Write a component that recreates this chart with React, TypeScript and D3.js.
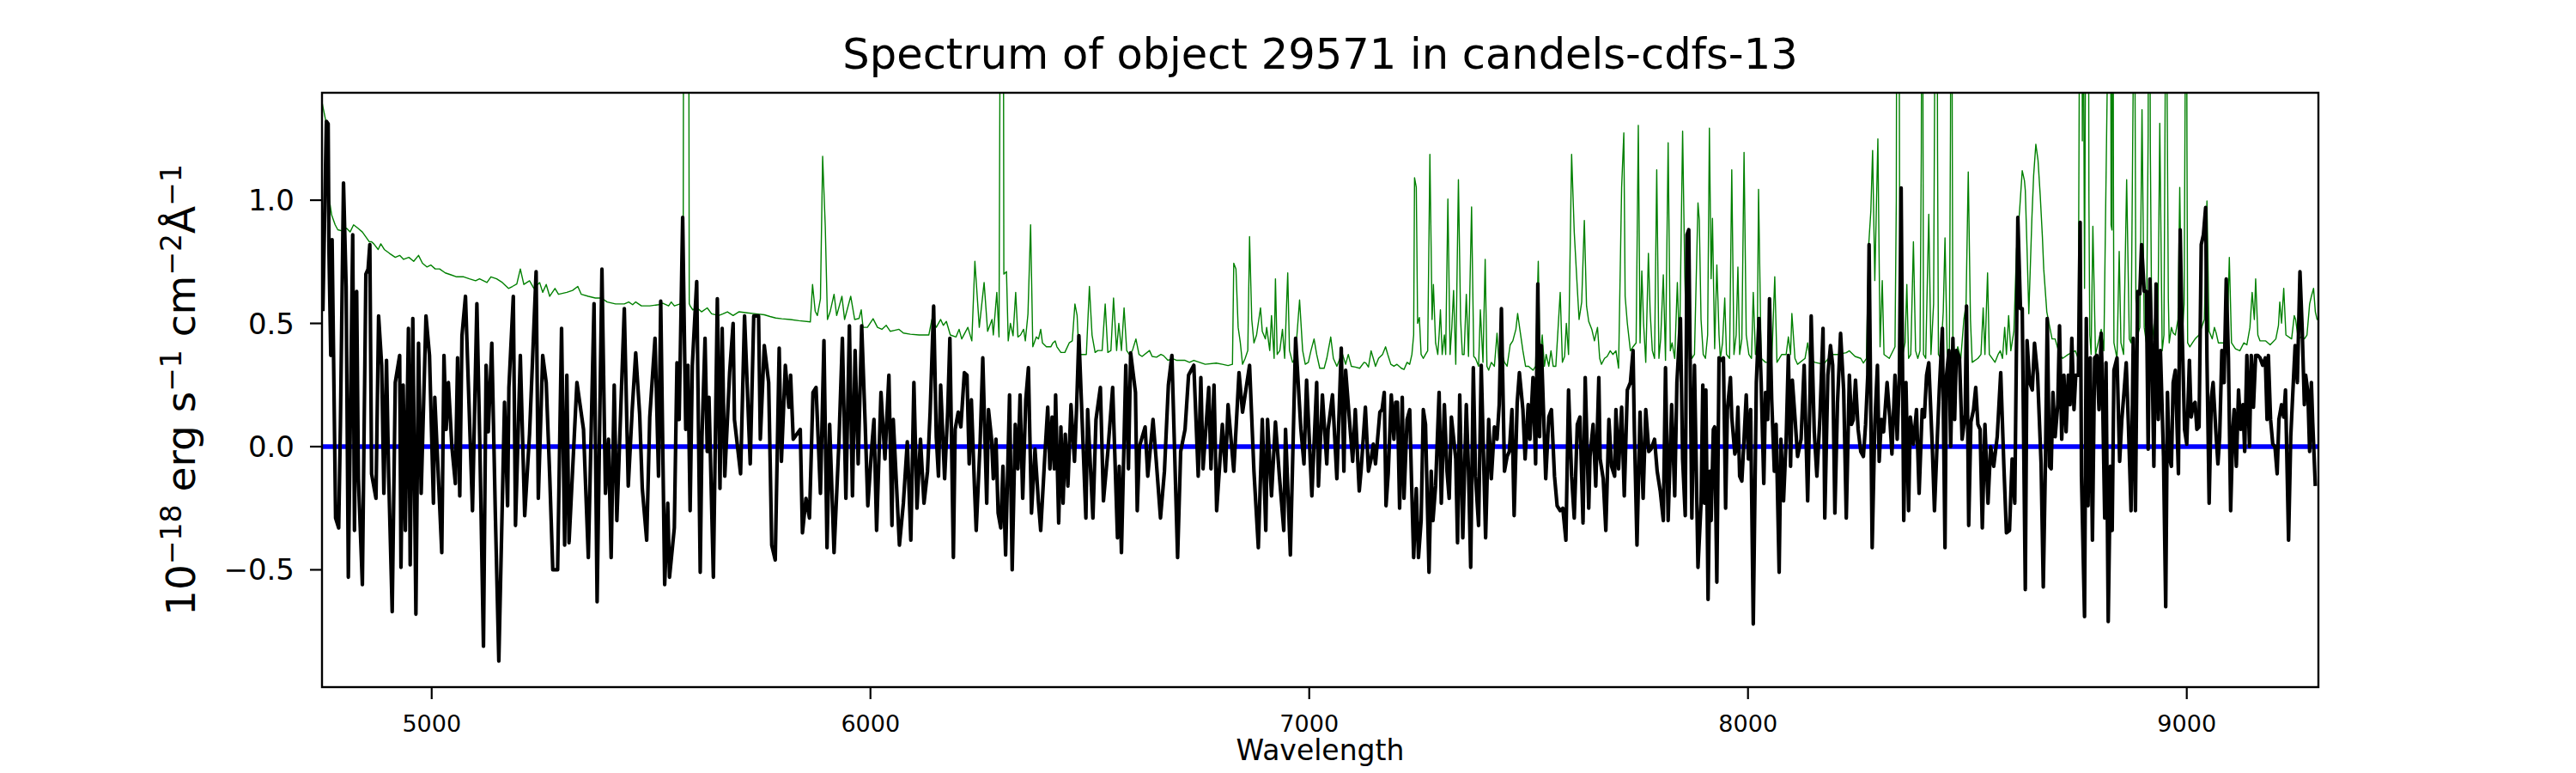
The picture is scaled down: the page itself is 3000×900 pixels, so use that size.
import * as d3 from "d3";

// ---- chart values ----
const titleText = "Spectrum of object 29571 in candels-cdfs-13";
const xDomain = [4750, 9300];
const yDomain = [-0.976, 1.436];
const xTicks = [5000, 6000, 7000, 8000, 9000];
const yTicks = [-0.5, 0, 0.5, 1.0];

// object flux [wavelength, flux], read in six stretches
const flux1: [number, number][] = [
  [4752, 0.55], [4760, 1.32], [4764, 1.31], [4766, 0.78], [4770, 0.37], [4773, 0.84], [4781, -0.29], [4788, -0.33],
  [4792, 0.09], [4799, 1.07], [4805, 0.65], [4810, -0.53], [4820, 0.86], [4824, -0.34], [4829, 0.63], [4833, -0.13],
  [4842, -0.56], [4850, 0.7], [4855, 0.72], [4859, 0.82], [4863, -0.11], [4873, -0.21], [4879, 0.53], [4886, 0.33],
  [4891, -0.19], [4897, 0.35], [4902, -0.12], [4910, -0.67], [4917, 0.26], [4927, 0.37], [4930, -0.49], [4935, 0.25],
  [4940, -0.34], [4947, 0.48], [4951, -0.48], [4957, 0.52], [4964, -0.68], [4970, 0.42], [4976, -0.19], [4987, 0.53],
  [4995, 0.37], [5004, -0.23], [5007, 0.2], [5023, -0.43], [5028, 0.37], [5033, 0.07], [5038, 0.26], [5046, 0.0],
  [5054, -0.15], [5059, 0.36], [5064, -0.2], [5069, 0.45], [5077, 0.61], [5093, -0.26], [5103, 0.58], [5110, -0.02],
  [5118, -0.81], [5124, 0.33], [5129, 0.06], [5137, 0.42], [5145, -0.27], [5153, -0.87], [5166, 0.18], [5173, -0.24],
  [5176, 0.24], [5186, 0.61], [5191, -0.32], [5202, 0.37], [5212, -0.28], [5223, 0.05], [5238, 0.71], [5243, -0.21],
  [5253, 0.37], [5261, 0.26], [5269, -0.12], [5276, -0.5], [5287, -0.5], [5296, 0.48], [5303, -0.4], [5308, 0.29],
  [5313, -0.39], [5331, 0.26], [5346, 0.07], [5357, -0.45], [5370, 0.58], [5377, -0.63], [5388, 0.72], [5396, -0.19],
  [5403, 0.03], [5409, -0.45], [5416, 0.25], [5422, -0.3], [5439, 0.56], [5448, -0.16], [5457, 0.15], [5465, 0.38],
  [5474, 0.13], [5480, -0.17], [5490, -0.38], [5497, 0.12], [5509, 0.44], [5517, -0.12], [5522, 0.59], [5531, -0.56],
  [5538, -0.23], [5542, -0.53],
];
const flux2: [number, number][] = [
  [5553, -0.33], [5559, 0.34], [5564, 0.11], [5572, 0.93], [5579, 0.07], [5584, 0.33], [5589, -0.26], [5594, 0.33],
  [5604, 0.67], [5612, -0.51], [5616, 0.04], [5623, 0.44], [5628, -0.02], [5632, 0.2], [5642, -0.53], [5651, 0.6],
  [5657, -0.17], [5662, 0.48], [5668, -0.12], [5679, 0.3], [5687, 0.5], [5690, 0.11], [5704, -0.11], [5713, 0.53],
  [5726, -0.07], [5734, 0.53], [5745, 0.53], [5749, 0.03], [5758, 0.41], [5768, 0.26], [5775, -0.4], [5783, -0.46],
  [5792, 0.4], [5797, -0.06], [5806, 0.33], [5814, 0.16], [5818, 0.29], [5824, 0.03], [5840, 0.07], [5845, -0.35],
  [5853, -0.21], [5861, -0.29], [5869, 0.22], [5876, 0.24], [5886, -0.19], [5894, 0.43], [5901, -0.41], [5907, 0.09],
  [5917, -0.43], [5928, 0.01], [5936, 0.44], [5944, -0.21], [5952, 0.49], [5959, -0.2], [5965, 0.39], [5972, -0.07],
  [5980, 0.49], [5988, 0.09], [5994, -0.24], [6003, 0.0], [6008, 0.11], [6014, -0.34], [6024, 0.22], [6033, -0.05],
  [6042, 0.29], [6049, -0.32], [6052, 0.11], [6066, -0.4], [6075, -0.23], [6084, 0.02], [6092, -0.38], [6099, 0.26],
  [6106, -0.25], [6114, 0.03], [6122, -0.23], [6130, -0.1], [6136, 0.14], [6144, 0.57], [6150, 0.04], [6155, -0.12],
  [6160, 0.25], [6169, -0.13], [6176, 0.14], [6181, 0.44], [6189, -0.45], [6193, 0.07], [6200, 0.14], [6206, 0.08],
  [6214, 0.3], [6220, 0.29], [6225, -0.07], [6230, 0.19], [6237, -0.16], [6241, -0.34], [6250, 0.02], [6256, 0.36],
  [6261, 0.03], [6265, -0.23], [6269, 0.15], [6276, 0.03], [6280, -0.13], [6286, 0.03], [6291, -0.27], [6297, -0.33],
  [6302, -0.08], [6308, -0.44], [6317, 0.21], [6323, -0.5],
];
const flux3: [number, number][] = [
  [6330, 0.09], [6336, -0.09], [6341, 0.21], [6347, -0.21], [6354, 0.19], [6360, 0.32], [6367, -0.27], [6375, -0.01],
  [6383, -0.23], [6388, -0.34], [6397, -0.05], [6404, 0.16], [6409, -0.09], [6414, 0.12], [6419, -0.09], [6422, 0.21],
  [6429, -0.31], [6434, 0.08], [6439, -0.23], [6444, 0.05], [6450, -0.16], [6457, 0.17], [6465, -0.06], [6470, 0.17],
  [6475, 0.45], [6491, -0.29], [6495, 0.15], [6507, -0.29], [6514, 0.11], [6524, 0.24], [6531, -0.22], [6541, -0.02],
  [6552, 0.24], [6563, -0.37], [6567, -0.08], [6572, -0.43], [6582, 0.33], [6588, -0.09], [6593, 0.38], [6604, 0.22],
  [6608, -0.26], [6613, 0.0], [6626, 0.08], [6632, -0.12], [6644, 0.11], [6651, -0.05], [6661, -0.29], [6670, -0.1],
  [6679, 0.25], [6687, 0.37], [6700, -0.45], [6707, -0.02], [6717, 0.07], [6725, 0.29], [6737, 0.33], [6747, -0.12],
  [6753, 0.28], [6758, -0.09], [6771, 0.24], [6776, -0.09], [6783, 0.25], [6789, -0.26], [6802, 0.09], [6809, -0.1],
  [6815, 0.17], [6828, -0.1], [6840, 0.3], [6848, 0.14], [6864, 0.33], [6874, -0.1], [6884, -0.41], [6893, 0.11],
  [6901, -0.34], [6905, 0.11], [6914, -0.2], [6923, 0.1], [6932, -0.12], [6942, -0.34], [6946, 0.07], [6957, -0.44],
  [6969, 0.44], [6981, 0.07], [6988, -0.07], [6994, 0.27], [7006, -0.2], [7017, 0.26], [7021, -0.16], [7030, 0.21],
  [7040, -0.07], [7043, 0.07], [7053, 0.21], [7063, -0.13], [7073, 0.4], [7079, -0.1], [7083, 0.31], [7092, 0.1],
  [7099, -0.06], [7105, 0.15],
];
const flux4: [number, number][] = [
  [7114, -0.18], [7118, -0.1], [7128, 0.16], [7135, -0.1], [7141, -0.05], [7146, 0.01], [7151, -0.07], [7161, 0.14],
  [7166, 0.15], [7171, 0.22], [7175, -0.24], [7180, -0.11], [7187, 0.21], [7193, 0.03], [7197, 0.18], [7201, 0.18],
  [7206, -0.25], [7212, 0.2], [7216, -0.21], [7223, 0.11], [7229, 0.15], [7233, -0.13], [7238, -0.45], [7244, -0.17],
  [7249, -0.45], [7255, -0.3], [7260, 0.15], [7265, 0.09], [7273, -0.51], [7278, -0.1], [7282, -0.3], [7288, -0.16],
  [7296, 0.22], [7301, -0.23], [7308, 0.17], [7314, -0.1], [7319, -0.21], [7324, 0.12], [7334, -0.05], [7338, -0.39],
  [7343, 0.21], [7350, -0.37], [7358, 0.17], [7363, -0.1], [7368, -0.49], [7374, 0.32], [7379, -0.12], [7386, -0.32],
  [7392, 0.33], [7402, -0.37], [7409, 0.11], [7415, -0.13], [7422, 0.08], [7428, 0.03], [7433, 0.17], [7438, 0.56],
  [7445, -0.1], [7451, -0.04], [7456, -0.02], [7462, 0.15], [7467, -0.28], [7474, 0.18], [7479, 0.3], [7487, 0.15],
  [7492, -0.05], [7499, 0.17], [7503, 0.03], [7510, 0.28], [7516, -0.07], [7521, 0.66], [7525, 0.04], [7529, 0.41],
  [7539, -0.13], [7546, 0.12], [7552, 0.15], [7559, -0.12], [7565, -0.24], [7572, -0.26], [7578, -0.25], [7585, -0.38],
  [7591, 0.23], [7598, -0.12], [7604, -0.29], [7611, 0.09], [7617, 0.12], [7624, -0.31], [7629, 0.28], [7637, -0.25],
  [7640, -0.04], [7647, 0.09], [7653, -0.16], [7660, 0.28], [7663, -0.05], [7670, -0.13], [7676, -0.34], [7683, 0.11],
  [7689, -0.08], [7696, -0.12], [7699, 0.15], [7705, -0.09], [7712, 0.16], [7718, -0.2], [7725, 0.23], [7732, 0.26],
  [7738, 0.39], [7741, 0.07], [7747, -0.4], [7754, 0.14], [7761, -0.21], [7767, 0.15], [7774, -0.02], [7779, -0.01],
  [7787, 0.03], [7793, -0.1], [7800, -0.18], [7807, -0.3], [7812, 0.32], [7818, -0.3], [7826, 0.17], [7833, -0.2],
  [7838, 0.26], [7846, 0.52], [7851, -0.05], [7857, -0.28], [7861, 0.86], [7865, 0.88], [7872, -0.29], [7878, 0.33],
  [7886, -0.49],
];
const flux5: [number, number][] = [
  [7893, -0.23], [7897, 0.25], [7901, -0.23], [7904, 0.23], [7909, -0.62], [7913, -0.1], [7916, -0.3], [7921, 0.07],
  [7924, 0.08], [7929, -0.55], [7934, 0.36], [7940, 0.35], [7944, 0.36], [7949, -0.25], [7953, 0.15], [7960, 0.28],
  [7963, 0.12], [7970, -0.03], [7973, -0.01], [7977, 0.16], [7981, -0.12], [7986, -0.14], [7991, 0.03], [7996, 0.21],
  [8001, -0.05], [8006, 0.15], [8012, -0.72], [8019, 0.26], [8025, 0.52], [8030, 0.26], [8036, -0.15], [8040, 0.22],
  [8045, 0.11], [8049, 0.6], [8054, 0.19], [8060, -0.1], [8064, 0.09], [8071, -0.51], [8075, 0.03], [8081, -0.22],
  [8087, 0.03], [8092, 0.37], [8097, -0.08], [8101, 0.27], [8107, 0.12], [8113, -0.04], [8121, 0.03], [8128, 0.33],
  [8136, -0.22], [8141, 0.18], [8144, 0.53], [8151, 0.06], [8157, -0.12], [8164, 0.12], [8171, 0.48], [8175, -0.29],
  [8182, 0.29], [8188, 0.41], [8193, 0.33], [8198, -0.27], [8204, 0.18], [8211, 0.46], [8218, 0.23], [8224, -0.29],
  [8231, 0.29], [8236, 0.09], [8240, 0.11], [8245, 0.27], [8251, 0.07], [8257, -0.02], [8263, -0.04], [8268, 0.09],
  [8273, 0.29], [8276, 0.82], [8283, -0.41], [8289, 0.09], [8295, 0.33], [8299, -0.06], [8304, 0.11], [8309, 0.06],
  [8317, 0.26], [8323, 0.12], [8328, -0.03], [8335, 0.29], [8340, 0.03], [8345, 0.29], [8349, 1.05], [8355, -0.3],
  [8360, 0.26], [8366, -0.26], [8370, 0.12], [8377, 0.01], [8384, 0.15], [8390, -0.19], [8397, 0.15], [8402, 0.12],
  [8407, 0.29], [8412, 0.34], [8420, 0.0], [8425, -0.26], [8432, 0.06], [8436, 0.23], [8443, 0.48], [8449, -0.41],
  [8452, 0.28], [8458, 0.39], [8462, 0.0], [8467, 0.44], [8471, 0.11], [8475, 0.39], [8482, 0.36], [8488, 0.03],
  [8495, 0.13], [8498, 0.57], [8503, -0.32], [8508, 0.1], [8514, 0.15], [8519, 0.24], [8524, 0.09], [8529, 0.07],
  [8534, -0.33], [8540, 0.09], [8547, -0.23], [8553, 0.0], [8560, -0.08], [8568, 0.04], [8576, 0.3], [8583, -0.07],
  [8589, -0.35], [8596, -0.34], [8602, -0.05], [8608, -0.23], [8615, 0.93], [8621, 0.56], [8625, 0.56], [8632, -0.58],
  [8636, 0.43], [8642, 0.26], [8648, 0.23], [8653, 0.42], [8660, 0.29], [8668, -0.07], [8673, -0.57],
];
const flux6: [number, number][] = [
  [8678, -0.05], [8682, 0.52], [8687, -0.08], [8691, -0.09], [8695, 0.22], [8700, 0.04], [8706, 0.17], [8710, 0.49],
  [8715, 0.03], [8720, 0.29], [8725, 0.06], [8730, 0.29], [8734, 0.17], [8738, 0.44], [8743, 0.15], [8747, 0.29],
  [8753, 0.29], [8757, 0.91], [8760, -0.12], [8767, -0.69], [8771, 0.52], [8775, -0.24], [8780, 0.36], [8785, -0.38],
  [8790, 0.36], [8795, 0.37], [8800, 0.15], [8805, 0.46], [8808, 0.22], [8813, -0.29], [8816, 0.34], [8821, -0.71],
  [8826, -0.08], [8830, -0.34], [8834, 0.31], [8841, 0.36], [8847, -0.06], [8852, 0.11], [8857, 0.22], [8862, 0.34],
  [8867, 0.09], [8873, -0.26], [8878, 0.44], [8883, -0.26], [8888, 0.63], [8893, 0.62], [8897, 0.82], [8903, 0.63],
  [8908, 0.63], [8912, -0.01], [8916, 0.68], [8921, 0.36], [8925, -0.08], [8930, 0.66], [8935, 0.11], [8940, 0.39],
  [8947, -0.04], [8952, -0.65], [8956, 0.22], [8960, -0.04], [8965, -0.08], [8969, 0.26], [8974, 0.31], [8981, -0.11],
  [8985, 0.88], [8989, 0.5], [8995, 0.07], [9000, 0.01], [9006, 0.35], [9010, 0.12], [9015, 0.17], [9019, 0.18],
  [9023, 0.07], [9028, 0.08], [9033, 0.82], [9038, 0.86], [9043, 0.97], [9046, 0.36], [9051, -0.23], [9056, 0.2],
  [9060, 0.26], [9066, 0.07], [9071, -0.07], [9075, 0.04], [9080, 0.39], [9085, 0.26], [9090, 0.68], [9095, 0.36],
  [9100, -0.26], [9105, 0.07], [9108, 0.15], [9113, -0.08], [9118, 0.23], [9123, 0.07], [9128, 0.17], [9132, -0.02],
  [9137, 0.37], [9143, 0.0], [9147, 0.37], [9152, 0.16], [9157, 0.37], [9162, 0.37], [9167, 0.36], [9173, 0.33],
  [9179, 0.36], [9183, 0.11], [9186, 0.37], [9191, 0.11], [9196, 0.01], [9201, 0.0], [9206, -0.11], [9210, 0.11],
  [9216, 0.17], [9221, 0.12], [9225, 0.23], [9232, -0.38], [9237, 0.04], [9242, 0.23], [9247, 0.41], [9252, 0.26],
  [9258, 0.71], [9263, 0.48], [9268, 0.17], [9271, 0.29], [9276, 0.22], [9280, -0.02], [9284, 0.26], [9287, 0.1],
  [9293, -0.16],
];

// noise / sky spectrum [wavelength, flux]
const sky1: [number, number][] = [
  [4750, 1.4], [4752, 1.38], [4760, 1.31], [4767, 1.0], [4772, 0.94], [4780, 0.9], [4786, 0.88], [4796, 0.875],
  [4806, 0.886], [4814, 0.871], [4822, 0.9], [4832, 0.886], [4842, 0.871], [4858, 0.831], [4863, 0.831], [4868, 0.823],
  [4878, 0.8], [4884, 0.823], [4892, 0.8], [4904, 0.784], [4917, 0.768], [4927, 0.776], [4936, 0.76], [4948, 0.768],
  [4959, 0.752], [4970, 0.776], [4979, 0.744], [4989, 0.729], [4998, 0.737], [5008, 0.721], [5018, 0.721], [5031, 0.705],
  [5044, 0.697], [5057, 0.689], [5073, 0.689], [5086, 0.681], [5100, 0.673], [5109, 0.681], [5126, 0.666], [5135, 0.689],
  [5148, 0.681], [5161, 0.666], [5175, 0.642], [5184, 0.65], [5194, 0.66], [5202, 0.721], [5210, 0.658], [5223, 0.673],
  [5233, 0.642], [5246, 0.666], [5253, 0.626], [5261, 0.658], [5269, 0.61], [5281, 0.642], [5289, 0.618], [5308, 0.626],
  [5321, 0.634], [5333, 0.65], [5341, 0.618], [5357, 0.61], [5373, 0.603], [5387, 0.603], [5400, 0.587], [5419, 0.579],
  [5439, 0.579], [5449, 0.587], [5458, 0.576], [5465, 0.587], [5478, 0.571], [5497, 0.571], [5517, 0.576], [5527, 0.582],
  [5540, 0.571],
];
const sky2: [number, number][] = [
  [5546, 0.587], [5553, 0.571], [5566, 0.579], [5573, 0.58], [5575.5, 3.5], [5584.5, 3.5], [5587, 0.58], [5589, 0.571],
  [5595, 0.555], [5605, 0.563], [5615, 0.547], [5628, 0.563], [5638, 0.539], [5654, 0.532], [5664, 0.539], [5674, 0.547],
  [5687, 0.532], [5700, 0.547], [5719, 0.543], [5739, 0.539], [5758, 0.535], [5771, 0.528], [5784, 0.522], [5798, 0.519],
  [5817, 0.516], [5837, 0.511], [5863, 0.506], [5868, 0.658], [5874, 0.55], [5879, 0.532], [5886, 0.6], [5891, 1.178],
  [5897, 0.894], [5902, 0.516], [5908, 0.547], [5917, 0.618], [5923, 0.532], [5935, 0.61], [5941, 0.516], [5955, 0.61],
  [5964, 0.516], [5974, 0.52], [5979, 0.555], [5983, 0.484], [5993, 0.484], [6006, 0.519], [6016, 0.484], [6026, 0.476],
  [6036, 0.492], [6045, 0.468], [6055, 0.472], [6065, 0.476], [6075, 0.461], [6091, 0.456], [6111, 0.453], [6133, 0.453],
  [6140, 0.516], [6150, 0.484], [6160, 0.516], [6166, 0.492], [6173, 0.508], [6182, 0.453], [6195, 0.445], [6202, 0.476],
  [6208, 0.437], [6222, 0.484], [6231, 0.429], [6238, 0.752], [6248, 0.484], [6259, 0.666], [6267, 0.468], [6277, 0.516],
  [6280, 0.453], [6288, 0.626], [6293, 0.445], [6298, 3.0], [6302, 3.0], [6304, 0.7], [6310, 0.71], [6314, 0.429],
  [6319, 0.5], [6325, 0.45],
];
const sky3: [number, number][] = [
  [6331, 0.626], [6336, 0.445], [6342, 0.453], [6349, 0.476], [6353, 0.429], [6359, 0.539], [6365, 0.9], [6370, 0.405],
  [6378, 0.445], [6383, 0.437], [6388, 0.476], [6392, 0.421], [6401, 0.405], [6411, 0.405], [6416, 0.421], [6421, 0.429],
  [6425, 0.405], [6434, 0.382], [6443, 0.382], [6453, 0.421], [6460, 0.429], [6466, 0.579], [6471, 0.532], [6475, 0.374],
  [6482, 0.374], [6492, 0.374], [6499, 0.65], [6505, 0.453], [6512, 0.382], [6518, 0.39], [6528, 0.39], [6535, 0.579],
  [6541, 0.382], [6548, 0.39], [6554, 0.603], [6561, 0.39], [6566, 0.5], [6572, 0.39], [6578, 0.563], [6584, 0.39],
  [6590, 0.374], [6597, 0.39], [6605, 0.437], [6612, 0.374], [6619, 0.366], [6636, 0.39], [6642, 0.366], [6652, 0.363],
  [6662, 0.374], [6668, 0.369], [6678, 0.35], [6688, 0.358], [6698, 0.35], [6717, 0.35], [6727, 0.342], [6737, 0.35],
  [6750, 0.342], [6763, 0.334], [6788, 0.339], [6802, 0.334], [6815, 0.329], [6825, 0.334], [6828, 0.744], [6833, 0.721],
  [6838, 0.484], [6843, 0.421], [6848, 0.334], [6854, 0.358], [6860, 0.39], [6864, 0.852], [6869, 0.516], [6874, 0.421],
  [6880, 0.453], [6889, 0.563], [6893, 0.468], [6900, 0.437], [6903, 0.484], [6910, 0.39], [6914, 0.532], [6920, 0.358],
  [6923, 0.681], [6927, 0.374], [6933, 0.39], [6939, 0.476], [6944, 0.358], [6951, 0.705], [6955, 0.39], [6962, 0.342],
  [6968, 0.358], [6978, 0.595], [6985, 0.39], [6991, 0.334], [6998, 0.342], [7004, 0.39], [7011, 0.437], [7017, 0.374],
  [7024, 0.318], [7034, 0.318], [7040, 0.358], [7049, 0.445], [7055, 0.358], [7063, 0.326], [7070, 0.358], [7076, 0.374],
  [7083, 0.334], [7089, 0.374], [7096, 0.326], [7105, 0.323],
];
const sky4: [number, number][] = [
  [7115, 0.318], [7125, 0.342], [7129, 0.339], [7135, 0.323], [7141, 0.389], [7146, 0.358], [7151, 0.326], [7158, 0.358],
  [7167, 0.374], [7174, 0.405], [7179, 0.374], [7186, 0.334], [7193, 0.326], [7200, 0.334], [7210, 0.318], [7216, 0.313],
  [7223, 0.342], [7229, 0.334], [7234, 0.374], [7238, 0.453], [7240, 1.091], [7244, 1.052], [7247, 0.5], [7251, 0.524],
  [7255, 0.374], [7260, 0.358], [7265, 0.374], [7270, 0.389], [7275, 1.186], [7280, 0.516], [7283, 0.658], [7288, 0.421],
  [7293, 0.374], [7296, 0.453], [7299, 0.555], [7303, 0.374], [7308, 0.453], [7311, 0.374], [7316, 1.005], [7321, 0.374],
  [7325, 0.484], [7329, 0.634], [7334, 0.334], [7340, 1.083], [7345, 0.516], [7349, 0.374], [7353, 0.374], [7358, 0.618],
  [7363, 0.366], [7370, 0.973], [7375, 0.366], [7379, 0.358], [7386, 0.326], [7390, 0.555], [7396, 0.342], [7401, 0.76],
  [7405, 0.326], [7409, 0.31], [7415, 0.342], [7422, 0.326], [7428, 0.46], [7433, 0.326], [7438, 0.389], [7445, 0.342],
  [7451, 0.326], [7458, 0.413], [7464, 0.429], [7471, 0.476], [7475, 0.54], [7480, 0.476], [7487, 0.389], [7493, 0.326],
  [7500, 0.326], [7510, 0.31], [7516, 0.326], [7522, 0.752], [7526, 0.358], [7531, 0.453], [7536, 0.326], [7540, 0.374],
  [7546, 0.326], [7551, 0.389], [7556, 0.326], [7562, 0.326], [7572, 0.626], [7577, 0.342], [7582, 0.366], [7586, 0.5],
  [7591, 0.374], [7598, 1.186], [7604, 0.87], [7611, 0.642], [7615, 0.516], [7621, 0.587], [7627, 0.918], [7632, 0.571],
  [7637, 0.508], [7644, 0.476], [7650, 0.429], [7657, 0.484], [7662, 0.358], [7666, 0.334], [7673, 0.358], [7679, 0.366],
  [7686, 0.389], [7692, 0.374], [7699, 0.389], [7705, 0.318], [7712, 1.052], [7717, 1.273], [7720, 0.61], [7725, 0.5],
  [7732, 0.389], [7738, 0.405], [7745, 0.421], [7750, 1.304], [7754, 0.421], [7758, 0.713], [7762, 0.5], [7767, 0.342],
  [7773, 0.784], [7777, 0.547], [7782, 0.389], [7787, 0.358], [7792, 1.123], [7797, 0.358], [7801, 0.437], [7807, 0.697],
  [7812, 0.35], [7818, 1.233], [7823, 0.389], [7827, 0.421], [7833, 0.358], [7839, 0.666], [7844, 0.389], [7851, 1.28],
  [7856, 0.689], [7861, 0.358], [7865, 0.437], [7872, 0.358], [7878, 0.374], [7886, 0.989],
];
const sky5: [number, number][] = [
  [7889, 0.92], [7893, 0.516], [7898, 0.374], [7903, 0.358], [7908, 0.453], [7912, 1.292], [7916, 0.681], [7919, 0.926],
  [7924, 0.397], [7929, 0.737], [7934, 0.453], [7937, 0.358], [7942, 0.421], [7947, 0.603], [7951, 0.374], [7958, 0.358],
  [7963, 1.123], [7968, 0.374], [7973, 0.453], [7977, 0.729], [7981, 0.374], [7986, 0.437], [7991, 1.194], [7996, 0.453],
  [8002, 0.374], [8008, 0.358], [8012, 0.626], [8017, 0.374], [8021, 0.389], [8024, 1.044], [8030, 0.358], [8040, 0.342],
  [8054, 0.342], [8061, 0.689], [8066, 0.342], [8077, 0.374], [8087, 0.374], [8092, 0.445], [8097, 0.374], [8100, 0.54],
  [8107, 0.358], [8113, 0.334], [8130, 0.358], [8136, 0.421], [8141, 0.358], [8152, 0.342], [8172, 0.334], [8191, 0.374],
  [8205, 0.374], [8224, 0.381], [8231, 0.389], [8244, 0.366], [8257, 0.358], [8263, 0.339], [8270, 0.358], [8275, 0.815],
  [8280, 0.957], [8284, 1.202], [8289, 0.674], [8296, 1.249], [8301, 0.405], [8306, 0.674], [8310, 0.374], [8322, 0.358],
  [8335, 0.405], [8338, 1.0], [8340, 3.0], [8343, 3.0], [8345.5, 1.0], [8347, 0.453], [8351, 0.358], [8358, 0.421],
  [8362, 0.658], [8366, 0.358], [8371, 0.374], [8377, 0.831], [8382, 0.389], [8387, 0.358], [8392, 0.389], [8395, 1.2],
  [8397, 3.0], [8399, 1.2], [8400, 0.374], [8405, 0.358], [8412, 0.943], [8417, 0.374], [8423, 0.579], [8425.5, 1.5],
  [8427.5, 3.0], [8430, 3.0], [8432, 1.2], [8434, 0.374], [8439, 0.358], [8445, 0.547], [8449, 0.847], [8454, 0.374],
  [8459, 0.389], [8461.5, 1.3], [8463.5, 3.0], [8465.5, 1.3], [8467, 0.389], [8472, 0.358], [8478, 0.405], [8485, 0.358],
  [8492, 0.516], [8497, 0.579], [8502, 1.115], [8507, 0.516], [8511, 0.342], [8524, 0.358], [8531, 0.374], [8536, 0.563],
  [8540, 0.374], [8546, 0.705], [8550, 0.374], [8563, 0.342], [8570, 0.374], [8575, 0.389], [8580, 0.358], [8585, 0.484],
  [8589, 0.374], [8594, 0.532], [8599, 0.389], [8606, 0.468], [8612, 0.8], [8619, 0.957], [8625, 1.12], [8630, 1.08],
];
const sky6: [number, number][] = [
  [8632, 1.04], [8636, 0.8], [8640, 0.539], [8647, 0.926], [8651, 1.1], [8656, 1.227], [8661, 1.162], [8666, 1.02],
  [8671, 0.85], [8674, 0.721], [8681, 0.547], [8687, 0.492], [8693, 0.437], [8700, 0.437], [8710, 0.374], [8717, 0.358],
  [8730, 0.374], [8746, 0.389], [8752.5, 0.358], [8755, 1.5], [8757, 3.0], [8760, 3.0], [8762, 1.241], [8764, 2.0],
  [8767, 0.642], [8769, 1.5], [8771, 3.0], [8775, 3.0], [8777, 1.0], [8779, 0.452], [8782, 0.374], [8786, 0.894],
  [8792, 0.374], [8798, 0.421], [8805, 0.476], [8811, 0.389], [8819, 1.5], [8821, 3.0], [8825.5, 3.0], [8827.5, 0.9],
  [8829.5, 0.879], [8831, 3.0], [8833, 1.0], [8834, 0.421], [8841, 0.358], [8846, 0.792], [8850, 0.421], [8856, 0.374],
  [8863, 1.083], [8869, 0.437], [8873, 0.421], [8878, 1.5], [8880, 3.0], [8882, 1.5], [8884, 0.6], [8888, 0.453],
  [8893, 0.484], [8898, 1.367], [8903, 0.484], [8908, 0.421], [8912, 1.27], [8914, 3.0], [8917, 1.2], [8920, 0.516],
  [8925, 0.437], [8930, 0.6], [8934, 0.453], [8938.5, 1.312], [8944, 0.389], [8948, 0.453], [8951, 1.5], [8953, 3.0],
  [8955, 1.5], [8958, 0.6], [8960, 0.421], [8965, 0.484], [8969, 0.461], [8974, 0.453], [8980, 0.516], [8984, 1.052],
  [8989, 0.421], [8994, 0.579], [8996.5, 1.5], [8998.5, 3.0], [9000.5, 1.2], [9002, 0.421], [9007, 0.405], [9013, 0.421],
  [9019, 0.437], [9028, 0.453], [9040, 0.516], [9046, 0.997], [9051, 0.468], [9058, 0.437], [9063, 0.484], [9067, 0.461],
  [9072, 0.421], [9085, 0.421], [9092, 0.437], [9097, 0.768], [9102, 0.421], [9111, 0.397], [9121, 0.389], [9130, 0.421],
  [9137, 0.413], [9144, 0.484], [9149, 0.626], [9154, 0.516], [9157, 0.681], [9162, 0.453], [9167, 0.429], [9180, 0.429],
  [9190, 0.413], [9203, 0.437], [9209, 0.492], [9212, 0.587], [9216, 0.501], [9221, 0.642], [9226, 0.453], [9239, 0.437],
  [9245, 0.532], [9248, 0.516], [9254, 0.437], [9261, 0.445], [9268, 0.437], [9274, 0.453], [9280, 0.579], [9284, 0.61],
  [9289, 0.642], [9293, 0.547], [9297, 0.516], [9300, 0.52],
];

const fluxSegments = [flux1, flux2, flux3, flux4, flux5, flux6];
const skySegments = [sky1, sky2, sky3, sky4, sky5, sky6];

// ---- layout (matplotlib figure at 3000x900) ----
const W = 3000;
const H = 900;
const M = { left: 375, right: 2700, top: 108, bottom: 800 };
const FONT = "'DejaVu Sans', sans-serif";

const fmtY = (v: number) => (v < 0 ? "\u2212" : "") + Math.abs(v).toFixed(1);

export default function App() {
  const x = d3.scaleLinear().domain(xDomain).range([M.left, M.right]);
  const y = d3.scaleLinear().domain(yDomain).range([M.bottom, M.top]);
  const line = d3
    .line<[number, number]>()
    .x((d) => x(d[0]))
    .y((d) => y(d[1]));

  const fluxPath = line(fluxSegments.flat()) ?? "";
  const skyPath = line(skySegments.flat()) ?? "";

  return (
    <svg
      width={W}
      height={H}
      viewBox={`0 0 ${W} ${H}`}
      style={{ position: "absolute", left: 0, top: 0, background: "#fff" }}
      fontFamily={FONT}
    >
      <rect width={W} height={H} fill="#fff" />
      <defs>
        <clipPath id="plotArea">
          <rect x={M.left} y={M.top} width={M.right - M.left} height={M.bottom - M.top} />
        </clipPath>
      </defs>

      <g clipPath="url(#plotArea)">
        <path d={skyPath} fill="none" stroke="#008000" strokeWidth={1.4} strokeLinejoin="round" />
        <line x1={x(xDomain[0])} x2={x(xDomain[1])} y1={y(0)} y2={y(0)} stroke="#0000ff" strokeWidth={5.5} />
        <path d={fluxPath} fill="none" stroke="#000" strokeWidth={4.2} strokeLinejoin="round" />
      </g>

      {/* frame */}
      <rect
        x={M.left}
        y={M.top}
        width={M.right - M.left}
        height={M.bottom - M.top}
        fill="none"
        stroke="#000"
        strokeWidth={2.4}
      />

      {/* x axis */}
      {xTicks.map((t) => (
        <g key={`x${t}`}>
          <line x1={x(t)} x2={x(t)} y1={M.bottom} y2={M.bottom + 14} stroke="#000" strokeWidth={2.2} />
          <text x={x(t)} y={852} fontSize={27} textAnchor="middle">
            {t}
          </text>
        </g>
      ))}
      <text x={(M.left + M.right) / 2} y={885} fontSize={33} textAnchor="middle">
        Wavelength
      </text>

      {/* y axis */}
      {yTicks.map((t) => (
        <g key={`y${t}`}>
          <line x1={M.left - 14} x2={M.left} y1={y(t)} y2={y(t)} stroke="#000" strokeWidth={2.2} />
          <text x={343} y={y(t) + 12} fontSize={34} textAnchor="end">
            {fmtY(t)}
          </text>
        </g>
      ))}
      <text transform={`translate(227,${(M.top + M.bottom) / 2}) rotate(-90)`} fontSize={47} textAnchor="middle">
        10
        <tspan fontSize={33} dy={-16}>
          {"\u221218"}
        </tspan>
        <tspan dy={16}>{" erg s"}</tspan>
        <tspan fontSize={33} dy={-16}>
          {"\u22121"}
        </tspan>
        <tspan dy={16}>{" cm"}</tspan>
        <tspan fontSize={33} dy={-16}>
          {"\u22122"}
        </tspan>
        <tspan dy={16}>{"\u00c5"}</tspan>
        <tspan fontSize={33} dy={-16}>
          {"\u22121"}
        </tspan>
      </text>

      {/* title */}
      <text x={(M.left + M.right) / 2} y={80} fontSize={49.5} textAnchor="middle">
        {titleText}
      </text>
    </svg>
  );
}
